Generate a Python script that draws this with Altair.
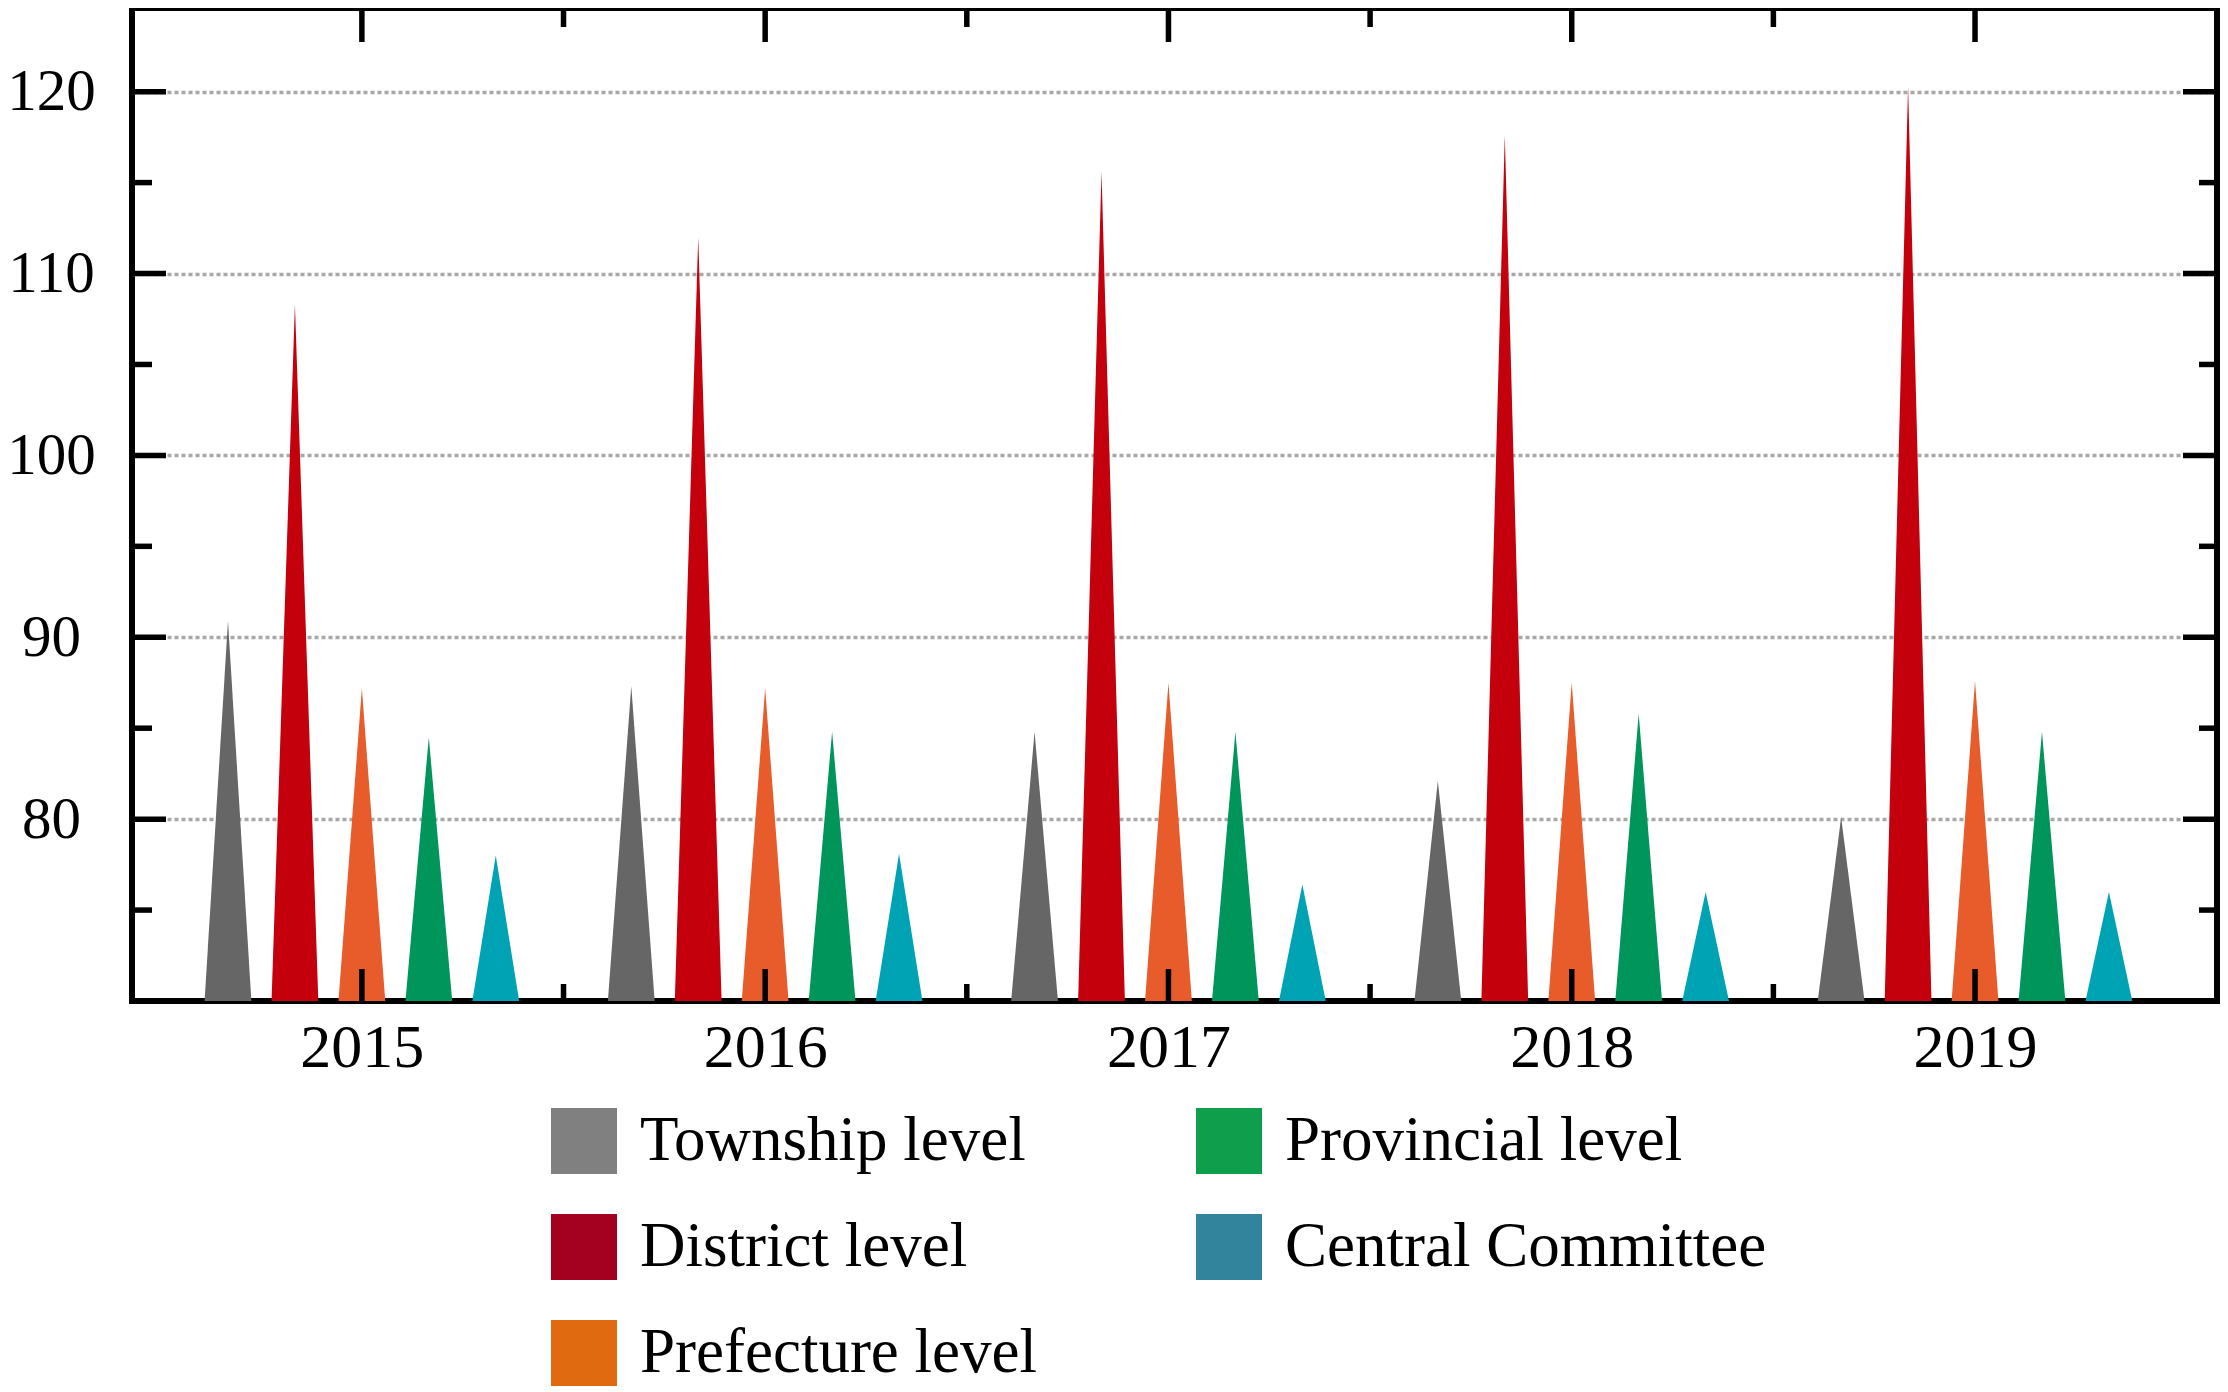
import json
import altair as alt
import pandas as pd

years = ["2015", "2016", "2017", "2018", "2019"]
series = ["Township level", "District level", "Prefecture level", "Provincial level", "Central Committee"]
township = [90.9, 87.3, 84.8, 82.1, 80.1]
district = [108.3, 112.0, 115.6, 117.6, 120.3]
prefecture = [87.2, 87.2, 87.5, 87.5, 87.6]
provincial = [84.5, 84.8, 84.8, 85.8, 84.8]
central = [78.0, 78.1, 76.4, 76.0, 76.0]
values = [township, district, prefecture, provincial, central]

tri_colors = ["#666666", "#c4000c", "#e85c2c", "#00955a", "#00a3b3"]
legend_colors = ["#808080", "#a4001f", "#e06a10", "#0e9e4c", "#31849b"]

y_base = 70
y_top = 124.6
y_major = [80, 90, 100, 110, 120]
y_minor = [75, 85, 95, 105, 115]
x_centers = [0, 1, 2, 3, 4]
x_bounds = [0.5, 1.5, 2.5, 3.5]

SPACING = 0.166
HALF = 0.058
W, H = 2085, 993
FONT = "Liberation Serif"

rows = []
for i, yr in enumerate(years):
    for j, s in enumerate(series):
        c = i + (j - 2) * SPACING
        v = values[j][i]
        k = f"{yr}-{s}"
        rows.append(dict(x=c - HALF, v=y_base, s=s, k=k))
        rows.append(dict(x=c, v=v, s=s, k=k))
        rows.append(dict(x=c + HALF, v=y_base, s=s, k=k))
df = pd.DataFrame(rows)

xs = alt.Scale(domain=[-0.57, 4.6], nice=False, zero=False)
ys = alt.Scale(domain=[y_base, y_top], nice=False, zero=False)

x_axis = alt.Axis(
    values=x_centers, labelExpr=f"{json.dumps(years)}[datum.value]", title=None,
    ticks=False, tickSize=0, domain=False, grid=False, labelFont=FONT,
    labelFontSize=62, labelPadding=16, labelColor="black")
y_axis = alt.Axis(
    values=y_major, title=None, ticks=False, tickSize=0, domain=False, grid=True,
    gridDash=[4, 3], gridColor="#a8a8a8", gridWidth=3.5, labelAlign="center",
    labelPadding=81, labelFont=FONT, labelFontSize=59, labelColor="black")

tri = alt.Chart(df).mark_area(opacity=1).encode(
    x=alt.X("x:Q", scale=xs, axis=x_axis),
    y=alt.Y("v:Q", scale=ys, axis=y_axis),
    y2=alt.datum(y_base),
    color=alt.Color("s:N", scale=alt.Scale(domain=series, range=tri_colors), legend=None),
    detail="k:N",
)

legend_layer = alt.Chart(pd.DataFrame({"s": series})).transform_filter("false").mark_square().encode(
    color=alt.Color("s:N", scale=alt.Scale(domain=series, range=legend_colors),
                    legend=alt.Legend(orient="none", legendX=419, legendY=1100, columns=2,
                                      symbolType="square", symbolSize=4356, symbolStrokeWidth=0,
                                      symbolOpacity=1, labelFont=FONT, labelFontSize=63,
                                      labelOffset=23, rowPadding=40, columnPadding=158,
                                      title=None, labelLimit=1000, padding=0, labelColor="black"))
)

def ytick(vals, length, right=False):
    d = pd.DataFrame({"t": vals})
    if right:
        xenc = dict(x=alt.value(W), x2=alt.value(W - length))
    else:
        xenc = dict(x=alt.value(0), x2=alt.value(length))
    return alt.Chart(d).mark_rule(color="black", strokeWidth=5.5).encode(
        y=alt.Y("t:Q", scale=ys, axis=y_axis), **xenc)

def xtick(vals, length, top=False):
    d = pd.DataFrame({"t": vals})
    if top:
        yenc = dict(y=alt.value(0), y2=alt.value(length))
    else:
        yenc = dict(y=alt.value(H), y2=alt.value(H - length))
    return alt.Chart(d).mark_rule(color="black", strokeWidth=5.5).encode(
        x=alt.X("t:Q", scale=xs, axis=x_axis), **yenc)

ticks = [
    ytick(y_major, 34), ytick(y_minor, 20),
    ytick(y_major, 34, right=True), ytick(y_minor, 18, right=True),
    xtick(x_centers, 32), xtick(x_bounds, 17),
    xtick(x_centers, 34, top=True), xtick(x_bounds, 19, top=True),
]

chart = alt.layer(tri, *ticks, legend_layer).resolve_scale(color="independent").properties(
    width=W, height=H,
    autosize=alt.AutoSizeParams(type="none"),
    padding={"left": 124, "top": 0, "right": 3, "bottom": 385},
    background="white",
).configure_view(stroke="black", strokeWidth=6, fill="white")

chart.save("out.html", embed_options={"renderer": "svg", "actions": False})
